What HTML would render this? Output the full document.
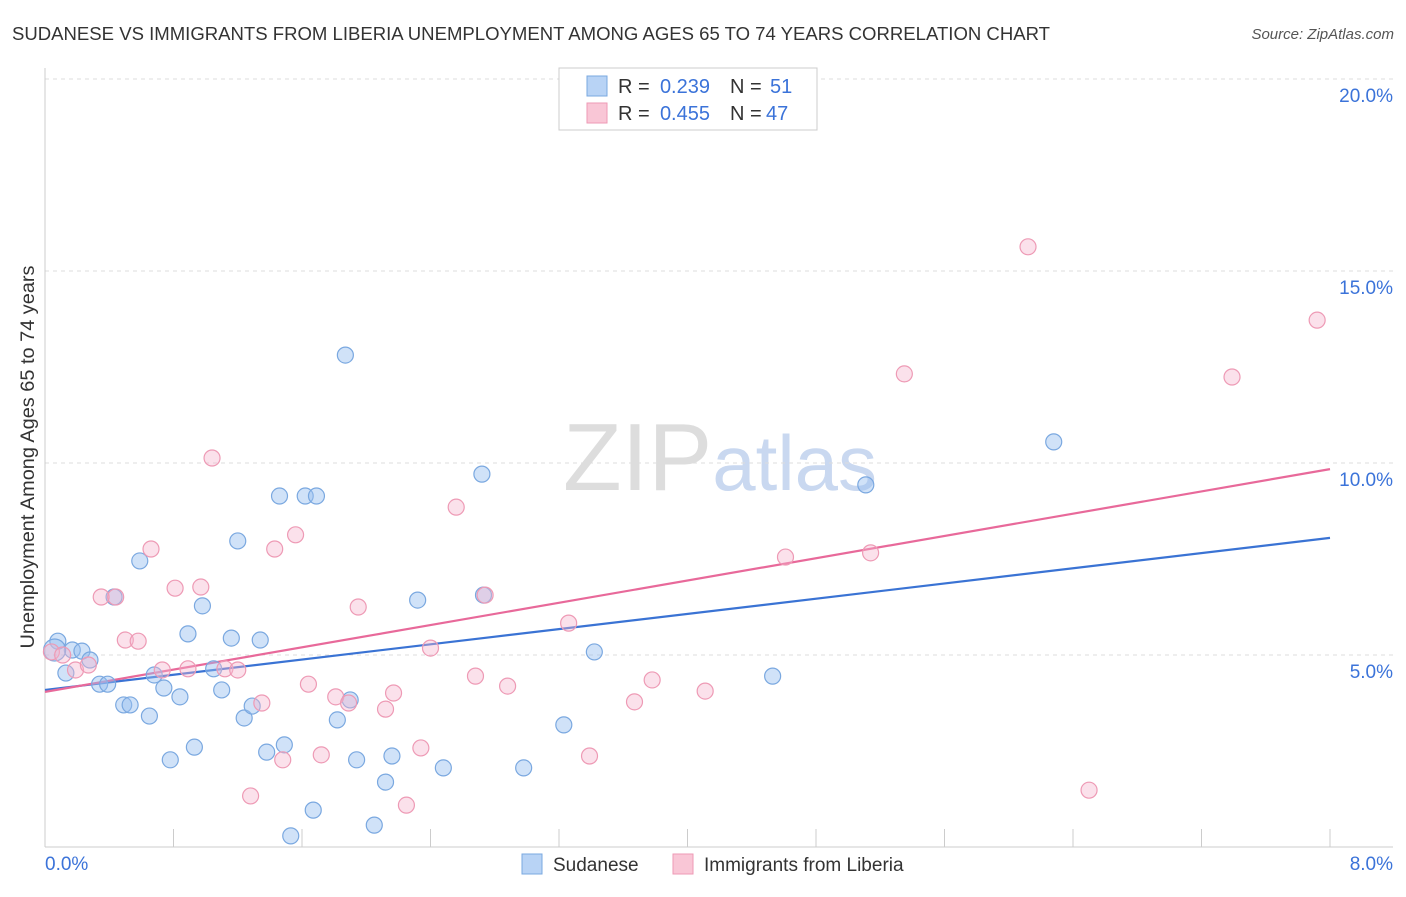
<!DOCTYPE html>
<html><head><meta charset="utf-8">
<style>
body{margin:0;background:#fff;font-family:"Liberation Sans",sans-serif;}
svg text{font-family:"Liberation Sans",sans-serif;}
</style></head>
<body>
<svg id="chart" width="1406" height="892" xmlns="http://www.w3.org/2000/svg">
<text x="12" y="40" font-size="18" fill="#333" textLength="1038" lengthAdjust="spacingAndGlyphs">SUDANESE VS IMMIGRANTS FROM LIBERIA UNEMPLOYMENT AMONG AGES 65 TO 74 YEARS CORRELATION CHART</text>
<text x="1394" y="39" font-size="15" fill="#555" text-anchor="end" font-style="italic">Source: ZipAtlas.com</text>
<text transform="translate(34,457) rotate(-90)" font-size="19" fill="#333" text-anchor="middle" textLength="383" lengthAdjust="spacingAndGlyphs">Unemployment Among Ages 65 to 74 years</text>
<text x="720" y="490" font-size="96" fill="#ddd" text-anchor="middle" font-family="Liberation Serif">ZIP<tspan fill="#c9d8f0" font-family="Liberation Sans" font-size="78">atlas</tspan></text>
<g id="grid"></g>
<g id="axes"></g>
<g id="lines"></g>
<g id="pts"></g>
<g>
<rect x="559" y="68" width="258" height="62" fill="#fff" stroke="#ccc"/>
<rect x="587" y="76" width="20" height="20" fill="#b8d3f5" stroke="#7aa8e0"/>
<rect x="587" y="103" width="20" height="20" fill="#f9c6d6" stroke="#ee9ab5"/>
<text x="618" y="93" font-size="20" fill="#333">R =</text>
<text x="710" y="93" font-size="20" fill="#3b73d9" text-anchor="end">0.239</text>
<text x="730" y="93" font-size="20" fill="#333">N =</text>
<text x="770" y="93" font-size="20" fill="#3b73d9">51</text>
<text x="618" y="120" font-size="20" fill="#333">R =</text>
<text x="710" y="120" font-size="20" fill="#3b73d9" text-anchor="end">0.455</text>
<text x="730" y="120" font-size="20" fill="#333">N =</text>
<text x="766" y="120" font-size="20" fill="#3b73d9">47</text>
</g>
<g>
<rect x="522" y="854" width="20" height="20" fill="#b8d3f5" stroke="#7aa8e0"/>
<text x="553" y="871" font-size="19" fill="#333">Sudanese</text>
<rect x="673" y="854" width="20" height="20" fill="#f9c6d6" stroke="#ee9ab5"/>
<text x="704" y="871" font-size="19" fill="#333">Immigrants from Liberia</text>
</g>
</svg>
<script>
const yTicks=[5,10,15,20];
const yTickLabels=["5.0%","10.0%","15.0%","20.0%"];
const xTickLabels=["0.0%","8.0%"];
const sudX=[0.08,0.13,0.17,0.23,0.28,0.34,0.39,0.43,0.49,0.53,0.59,0.65,0.68,0.74,0.78,0.84,0.89,0.93,0.98,1.05,1.10,1.16,1.20,1.24,1.29,1.34,1.38,1.46,1.49,1.53,1.62,1.67,1.69,1.82,1.87,1.90,1.94,2.05,2.12,2.16,2.32,2.48,2.72,2.73,2.98,3.23,3.42,4.53,5.11,6.28,0.06];
const sudY=[5.36,4.53,5.13,5.10,4.87,4.24,4.24,6.51,3.70,3.70,7.45,3.41,4.48,4.14,2.27,3.91,5.55,2.60,6.28,4.64,4.09,5.44,7.97,3.36,3.67,5.39,2.47,9.14,2.66,0.29,9.14,0.96,9.14,3.31,12.81,3.83,2.27,0.57,1.69,2.37,6.43,2.06,9.71,6.56,2.06,3.18,5.08,4.45,9.43,10.55,5.13];
const libX=[0.04,0.11,0.19,0.27,0.35,0.44,0.50,0.58,0.66,0.73,0.81,0.89,0.97,1.04,1.12,1.20,1.28,1.35,1.43,1.48,1.56,1.64,1.72,1.81,1.89,1.95,2.12,2.17,2.25,2.34,2.40,2.56,2.68,2.74,2.88,3.26,3.39,3.67,3.78,4.11,4.61,5.14,5.35,6.12,6.50,7.39,7.92];
const libY=[5.08,5.00,4.61,4.74,6.51,6.51,5.39,5.36,7.76,4.61,6.74,4.64,6.77,10.13,4.64,4.61,1.33,3.75,7.76,2.27,8.13,4.24,2.40,3.91,3.75,6.25,3.59,4.01,1.09,2.58,5.18,8.85,4.45,6.56,4.19,5.83,2.37,3.78,4.35,4.06,7.55,7.66,12.32,15.63,1.48,12.24,13.72];
const sudTrend=[4.09,8.05];
const libTrend=[4.04,9.84];
const X=v=>45+v/8*1285, Y=v=>847-v*38.4;
const NS="http://www.w3.org/2000/svg";
function mk(p,t,a){const e=document.createElementNS(NS,t);for(const k in a)e.setAttribute(k,a[k]);document.getElementById(p).appendChild(e);return e;}
yTicks.forEach((t,i)=>{
 const l=mk('grid','line',{x1:45,x2:1393,y1:Y(t),y2:Y(t),stroke:'#ddd','stroke-dasharray':'4,4'});
 
 
 const tx=mk('grid','text',{x:1393,y:Y(t)+23,'font-size':19,fill:'#3b73d9','text-anchor':'end'});
 tx.textContent=yTickLabels[i];
 
 
});
const ya=mk('axes','line',{x1:45,x2:45,y1:68,y2:847,stroke:'#ccc'});


const xa=mk('axes','line',{x1:45,x2:1393,y1:847,y2:847,stroke:'#ccc'});


for(let i=0;i<=10;i++){const tk=mk('axes','line',{x1:X(i*0.8),x2:X(i*0.8),y1:829,y2:847,stroke:'#ccc'});
 
 }
[[0,'start',45],[8,'end',1393]].forEach((d,i)=>{const t=mk('axes','text',{x:d[2],y:870,'font-size':19,fill:'#3b73d9','text-anchor':d[1]});t.textContent=xTickLabels[i];
 
 });
sudX.forEach((x,i)=>{const c=mk('pts','circle',{cx:X(x),cy:Y(sudY[i]),r:i==50?11:8,fill:'rgba(150,190,240,0.45)',stroke:'#7aa8e0','stroke-width':1.2});
 
 });
libX.forEach((x,i)=>{const c=mk('pts','circle',{cx:X(x),cy:Y(libY[i]),r:8,fill:'rgba(246,180,205,0.4)',stroke:'#ee9ab5','stroke-width':1.2});
 
 });
const l1=mk('lines','line',{x1:X(0),x2:X(8),y1:Y(sudTrend[0]),y2:Y(sudTrend[1]),stroke:'#3a73d4','stroke-width':2.2});


const l2=mk('lines','line',{x1:X(0),x2:X(8),y1:Y(libTrend[0]),y2:Y(libTrend[1]),stroke:'#e8699a','stroke-width':2.2});


</script>
</body></html>
